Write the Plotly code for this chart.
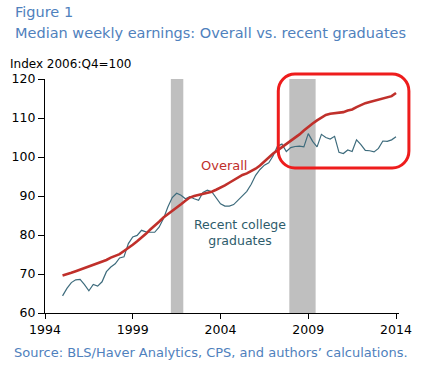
import plotly.graph_objects as go

# ---- data ----
quarters = [1995 + 0.25 * i for i in range(77)]  # 1995:Q1 .. 2014:Q1

overall = [
    69.6, 69.9, 70.3, 70.7, 71.1, 71.4, 71.8, 72.3,
    72.7, 73.2, 73.6, 74.2, 74.7, 75.1, 75.9, 76.6,
    77.5, 78.4, 79.3, 80.3, 81.4, 82.3, 83.4, 84.5,
    85.3, 86.2, 87.0, 87.9, 88.8, 89.6, 90.0, 90.3,
    90.6, 90.9, 91.1, 91.6, 92.1, 92.7, 93.4, 94.1,
    94.8, 95.4, 95.8, 96.3, 97.0, 97.8, 98.8, 100.0,
    100.9, 101.7, 102.5, 103.3, 104.1, 104.9, 105.8, 106.8,
    107.8, 108.6, 109.4, 110.2, 110.8, 111.1, 111.2, 111.3,
    111.5, 111.9, 112.2, 112.8, 113.4, 113.8, 114.1, 114.4,
    114.6, 114.9, 115.2, 115.6, 116.4,
]

recent_grads = [
    64.4, 66.3, 67.8, 68.5, 68.6, 67.3, 65.7, 67.3,
    66.9, 68.0, 70.6, 71.8, 72.6, 74.1, 74.4, 77.8,
    79.5, 79.9, 81.2, 80.8, 80.7, 80.7, 82.0, 84.2,
    87.2, 89.6, 90.7, 90.2, 89.3, 89.8, 89.3, 88.9,
    90.9, 91.5, 91.1, 89.6, 88.0, 87.4, 87.4, 87.8,
    89.0, 90.2, 91.2, 93.0, 95.3, 96.8, 97.9, 98.5,
    100.3, 102.8, 103.3, 101.4, 102.4, 102.7, 102.8, 102.6,
    106.0, 104.0, 102.6, 105.8, 105.0, 104.6, 105.3, 101.2,
    100.9, 101.8, 101.4, 104.4, 103.2, 101.7, 101.6, 101.3,
    102.2, 104.1, 104.0, 104.4, 105.2,
]

recession_start = [2001.17, 2007.92]
recession_end = [2001.88, 2009.42]

x_ticks = [1994, 1999, 2004, 2009, 2014]
y_ticks = [60, 70, 80, 90, 100, 110, 120]

title_text = "Figure 1"
subtitle_text = "Median weekly earnings: Overall vs. recent graduates"
axis_note = "Index 2006:Q4=100"
source_text = "Source: BLS/Haver Analytics, CPS, and authors\u2019 calculations."

FONT = "DejaVu Sans, Verdana, sans-serif"
BLUE_TXT = "#4f81bd"
RED = "#c0302b"
TEAL = "#3d6b7c"

fig = go.Figure()

fig.add_trace(go.Scatter(x=quarters, y=recent_grads, mode="lines",
                         line=dict(color=TEAL, width=1.2), hoverinfo="skip"))
fig.add_trace(go.Scatter(x=quarters, y=overall, mode="lines",
                         line=dict(color=RED, width=2.6), hoverinfo="skip"))

for s, e in zip(recession_start, recession_end):
    fig.add_shape(type="rect", xref="x", yref="paper", x0=s, x1=e, y0=0, y1=1,
                  fillcolor="#bfbfbf", line=dict(width=0), layer="below")

# rounded red highlight box (paper coords)
x0, x1, y0, y1 = 0.659, 1.028, 0.620, 1.021
rx, ry = 17 / 361, 17 / 234
k = 0.5523
path = (
    f"M {x0+rx},{y1} L {x1-rx},{y1} "
    f"C {x1-rx+k*rx},{y1} {x1},{y1-ry+k*ry} {x1},{y1-ry} "
    f"L {x1},{y0+ry} "
    f"C {x1},{y0+ry-k*ry} {x1-rx+k*rx},{y0} {x1-rx},{y0} "
    f"L {x0+rx},{y0} "
    f"C {x0+rx-k*rx},{y0} {x0},{y0+ry-k*ry} {x0},{y0+ry} "
    f"L {x0},{y1-ry} "
    f"C {x0},{y1-ry+k*ry} {x0+rx-k*rx},{y1} {x0+rx},{y1} Z"
)
fig.add_shape(type="path", xref="paper", yref="paper", path=path,
              line=dict(color="#ee1c1c", width=3))

annotations = [
    dict(text=title_text, x=8, y=12, color=BLUE_TXT, size=14.5),
    dict(text=subtitle_text, x=8, y=33, color=BLUE_TXT, size=14.5),
    dict(text=axis_note, x=3, y=64, color="black", size=12),
    dict(text=source_text, x=7, y=352, color=BLUE_TXT, size=13),
]
for a in annotations:
    fig.add_annotation(text=a["text"], xref="paper", yref="paper",
                       x=(a["x"] - 41) / 361, y=(313 - a["y"]) / 234,
                       xanchor="left", yanchor="middle", showarrow=False,
                       font=dict(family=FONT, size=a["size"], color=a["color"]))

fig.add_annotation(text="Overall", x=(224 - 41) / 361, y=(313 - 165) / 234,
                   xref="paper", yref="paper", showarrow=False,
                   xanchor="center", yanchor="middle",
                   font=dict(family=FONT, size=13, color=RED))
fig.add_annotation(text="Recent college<br>graduates", x=(239.5 - 41) / 361,
                   y=(313 - 232) / 234, xref="paper", yref="paper",
                   showarrow=False, xanchor="center", yanchor="middle",
                   font=dict(family=FONT, size=12.5, color="#2e5c6b"))

fig.update_layout(
    width=424, height=369, autosize=False,
    margin=dict(l=41, r=22, t=79, b=56),
    paper_bgcolor="white", plot_bgcolor="white",
    showlegend=False,
    font=dict(family=FONT, size=12, color="black"),
    xaxis=dict(range=[1994, 2014.17], tickvals=x_ticks, ticktext=[str(t) for t in x_ticks],
               showgrid=False, zeroline=False, showline=True, linecolor="black",
               linewidth=1.2, ticks="outside", ticklen=5, tickcolor="black",
               tickfont=dict(family=FONT, size=12.5, color="black")),
    yaxis=dict(range=[60, 120], tickvals=y_ticks, showgrid=False, zeroline=False,
               showline=True, linecolor="black", linewidth=1.2, ticks="outside",
               ticklen=6, tickcolor="black",
               tickfont=dict(family=FONT, size=12.5, color="black")),
)

fig.write_html("out.html",
               config={"displayModeBar": False},
               post_script="document.body.style.margin='0';"
                           "document.body.style.overflow='hidden';")
